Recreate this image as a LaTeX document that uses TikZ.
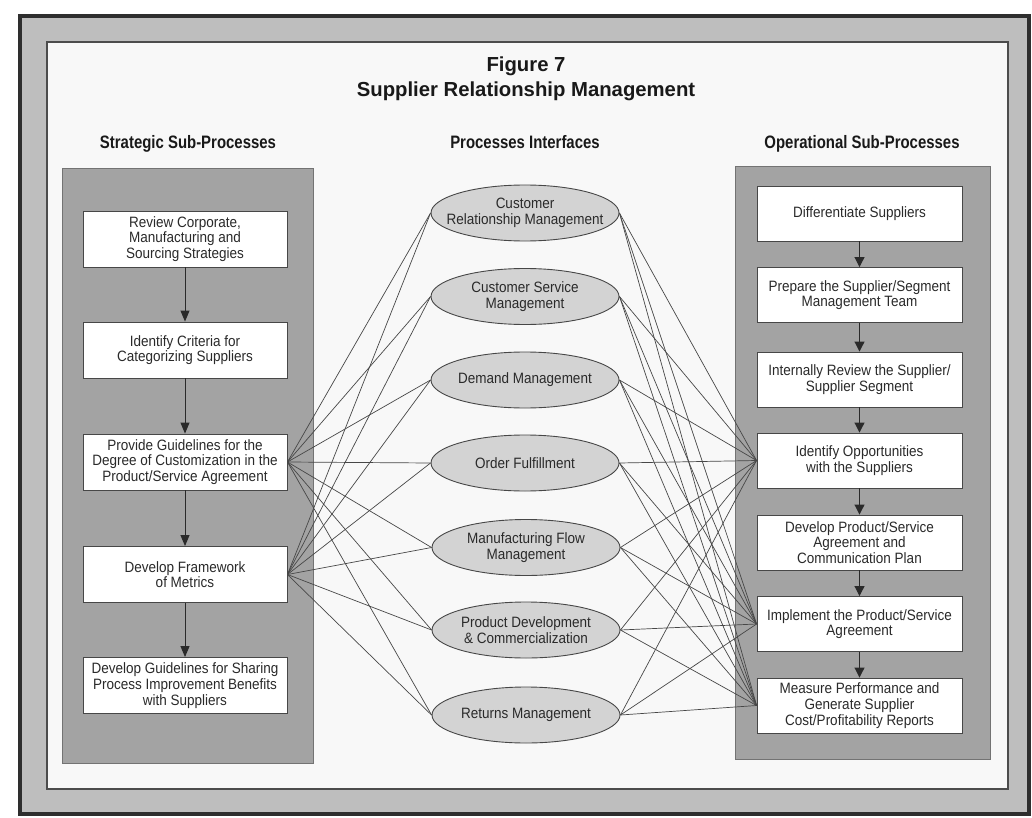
\documentclass[tikz,border=0pt]{standalone}
\usepackage{fontspec}
\setmainfont{Liberation Sans}
\newfontfamily\bodyfont[FakeStretch=0.9]{Liberation Sans}
\newfontfamily\headfont[FakeStretch=0.83]{Liberation Sans}
\newfontfamily\titlefont{Liberation Sans}
\usetikzlibrary{arrows.meta,shapes.geometric}
\definecolor{bandgray}{HTML}{BEBEBE}
\definecolor{panelgray}{HTML}{A3A3A3}
\definecolor{paper}{HTML}{F8F8F8}
\definecolor{ellgray}{HTML}{D3D3D3}
\definecolor{ink}{HTML}{2A2A2A}
\definecolor{linegray}{HTML}{474747}
\definecolor{framedark}{HTML}{2E2E2E}
\begin{document}
\begin{tikzpicture}[x=1pt,y=-1pt,
  bodytext/.style={font=\bodyfont\fontsize{15}{15.7}\selectfont, text=ink, align=center},
  sbox/.style={bodytext, draw=linegray, line width=0.9pt, fill=white,
     minimum width=204pt, minimum height=56pt, inner sep=0pt},
  obox/.style={bodytext, draw=linegray, line width=0.9pt, fill=white,
     minimum width=205pt, minimum height=55pt, inner sep=0pt},
  ell/.style={ellipse, draw=linegray, line width=0.9pt, fill=ellgray,
     minimum width=188pt, minimum height=56pt, inner sep=0pt},
  elltext/.style={bodytext, inner sep=0pt},
  panel/.style={fill=panelgray, draw=black!55, line width=0.8pt},
  longflow/.style={draw=ink, line width=1pt, -{Triangle[width=9pt,length=11pt]}},
  shortflow/.style={draw=ink, line width=1pt, -{Triangle[width=10pt,length=10pt]}},
  conn/.style={draw=linegray, line width=0.7pt},
  colhead/.style={font=\headfont\bfseries\fontsize{18}{20}\selectfont, text=black!90, anchor=base},
  titletext/.style={font=\titlefont\bfseries\fontsize{20.3}{24}\selectfont, text=black!90, anchor=base}
]
\useasboundingbox (0,0) rectangle (1032,818);
\fill[white] (0,0) rectangle (1032,818);
% outer frame
\draw[fill=bandgray, draw=framedark, line width=4pt] (20,16) rectangle (1029,814);
\draw[fill=paper, draw=black!70, line width=1.1pt] (47,42) rectangle (1008,789);

% titles
\node[titletext] (t1) at (526,72) {Figure 7};
\node[titletext] (t2) at (526,97) {Supplier Relationship Management};
\node[colhead] (h1) at (188,149) {Strategic Sub-Processes};
\node[colhead] (h2) at (525,149) {Processes Interfaces};
\node[colhead] (h3) at (862,149) {Operational Sub-Processes};

% panels
\draw[panel] (62,168) rectangle (313,763);
\draw[panel] (735,166) rectangle (990,759);

% strategic boxes
\node[sbox] (l1) at (185,239) {Review Corporate,\\Manufacturing and\\Sourcing Strategies};
\node[sbox] (l2) at (185,350) {Identify Criteria for\\Categorizing Suppliers};
\node[sbox] (l3) at (185,462) {Provide Guidelines for the\\Degree of Customization in the\\Product/Service Agreement};
\node[sbox] (l4) at (185,574.5) {Develop Framework\\of Metrics};
\node[sbox] (l5) at (185,685.5) {Develop Guidelines for Sharing\\Process Improvement Benefits\\with Suppliers};

\draw[longflow] (l1) -- (l2);
\draw[longflow] (l2) -- (l3);
\draw[longflow] (l3) -- (l4);
\draw[longflow] (l4) -- (l5);

% operational boxes
\node[obox] (r1) at (859.5,213.5) {Differentiate Suppliers};
\node[obox] (r2) at (859.5,295) {Prepare the Supplier/Segment\\Management Team};
\node[obox] (r3) at (859.5,379.5) {Internally Review the Supplier/\\Supplier Segment};
\node[obox] (r4) at (859.5,460.5) {Identify Opportunities\\with the Suppliers};
\node[obox] (r5) at (859.5,542.5) {Develop Product/Service\\Agreement and\\Communication Plan};
\node[obox] (r6) at (859.5,624) {Implement the Product/Service\\Agreement};
\node[obox] (r7) at (859.5,705.5) {Measure Performance and\\Generate Supplier\\Cost/Profitability Reports};

\draw[shortflow] (r1) -- (r2);
\draw[shortflow] (r2) -- (r3);
\draw[shortflow] (r3) -- (r4);
\draw[shortflow] (r4) -- (r5);
\draw[shortflow] (r5) -- (r6);
\draw[shortflow] (r6) -- (r7);

% interface ellipses
\node[ell, label={[elltext]center:{Customer\\Relationship Management}}] (e1) at (525,213) {};
\node[ell, label={[elltext]center:{Customer Service\\Management}}] (e2) at (525,296.5) {};
\node[ell, label={[elltext]center:{Demand Management}}] (e3) at (525,380) {};
\node[ell, label={[elltext]center:{Order Fulfillment}}] (e4) at (525,463) {};
\node[ell, label={[elltext]center:{Manufacturing Flow\\Management}}] (e5) at (526,547.5) {};
\node[ell, label={[elltext]center:{Product Development\\\& Commercialization}}] (e6) at (526,630) {};
\node[ell, label={[elltext]center:{Returns Management}}] (e7) at (526,715) {};

% connectors
\foreach \e in {e1,e2,e3,e4,e5,e6,e7}{
  \draw[conn] (l3.east) -- (\e.west);
  \draw[conn] (l4.east) -- (\e.west);
  \draw[conn] (\e.east) -- (r4.west);
  \draw[conn] (\e.east) -- (r6.west);
  \draw[conn] (\e.east) -- (r7.west);
}
\end{tikzpicture}
\end{document}
